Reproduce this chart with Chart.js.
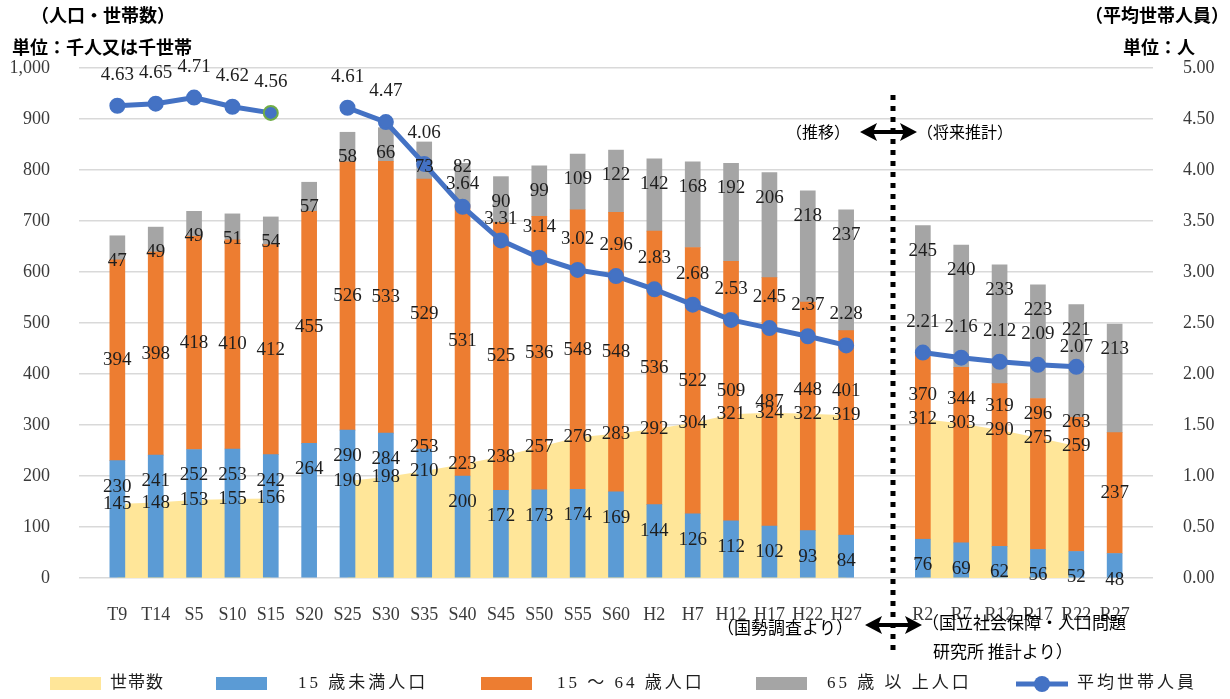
<!DOCTYPE html>
<html lang="ja">
<head>
<meta charset="utf-8">
<title>人口・世帯数と平均世帯人員の推移</title>
<script src="https://cdn.jsdelivr.net/npm/chart.js@4.4.1/dist/chart.umd.min.js"></script>
<style>
  html, body { margin: 0; padding: 0; background: #ffffff; }
  #wrap { position: relative; width: 1230px; height: 699px; }
</style>
</head>
<body>
<div id="wrap"><canvas id="chart" width="1230" height="699"></canvas></div>
<script>
// Census years (actual) and projection years
const pastYears   = ['T9','T14','S5','S10','S15','S20','S25','S30','S35','S40','S45','S50','S55','S60','H2','H7','H12','H17','H22','H27'];
const futureYears = ['R2','R7','R12','R17','R22','R27'];

// 世帯数 (千世帯)
const householdsPast   = [145,148,153,155,156,null,190,198,210,223,238,257,276,283,292,304,321,324,322,319];
const householdsFuture = [312,303,290,275,259,null];

// 15歳未満人口 (千人)
const under15Past   = [230,241,252,253,242,264,290,284,253,200,172,173,174,169,144,126,112,102,93,84];
const under15Future = [76,69,62,56,52,48];

// 15～64歳人口 (千人)
const age15to64Past   = [394,398,418,410,412,455,526,533,529,531,525,536,548,548,536,522,509,487,448,401];
const age15to64Future = [370,344,319,296,263,237];

// 65歳以上人口 (千人)
const age65plusPast   = [47,49,49,51,54,57,58,66,73,82,90,99,109,122,142,168,192,206,218,237];
const age65plusFuture = [245,240,233,223,221,213];

// 平均世帯人員 (人)
const avgSizePast   = [4.63,4.65,4.71,4.62,4.56,null,4.61,4.47,4.06,3.64,3.31,3.14,3.02,2.96,2.83,2.68,2.53,2.45,2.37,2.28];
const avgSizeFuture = [2.21,2.16,2.12,2.09,2.07,null];

// Axis tick settings
const popAxisMax = 1000, popAxisStep = 100;
const sizeAxisMax = 5, sizeAxisStep = 0.5;

// Legend entries
const legendNames = ['世帯数', '15 歳未満人口', '15 ～ 64 歳人口', '65 歳 以 上人口', '平均世帯人員'];

// Empty slots at both ends and between the actual and projected periods
const labels = ['', ...pastYears, '', ...futureYears, ''];
const withBlanks = (past, future) => [null, ...past, null, ...future, null];

const COLORS = {
  households: '#FFE699',
  under15: '#5B9BD5',
  mid: '#ED7D31',
  old: '#A5A5A5',
  avg: '#4472C4',
  highlight: '#70AD47',
  grid: '#D9D9D9',
  text: '#1e1e1e',
  tick: '#3a3a3a'
};
const SERIF = '"Liberation Serif", "Times New Roman", serif';
const JP = '"Noto Sans CJK JP", "Noto Sans", sans-serif';
const LEGEND_FONT = '"Liberation Serif", "Noto Sans CJK JP", serif';

// Value labels for every series
const valueLabels = {
  id: 'valueLabels',
  afterDatasetsDraw(chart) {
    const ctx = chart.ctx;
    const ds = chart.data.datasets;
    const metas = [0, 1, 2, 3, 4].map(i => chart.getDatasetMeta(i));
    ctx.save();
    ctx.font = '19px ' + SERIF;
    ctx.fillStyle = COLORS.text;
    ctx.textAlign = 'center';
    ctx.textBaseline = 'middle';
    const put = (t, x, y) => ctx.fillText(t, x, y);
    labels.forEach((lab, i) => {
      if (!lab) return;
      const x = metas[1].data[i].x;
      const hhVal = ds[0].data[i];
      const hhY = hhVal != null ? metas[0].data[i].y : null;
      if (hhVal != null) put(String(hhVal), x, hhY);

      // 15歳未満: just inside the top of its segment, lifted above the 世帯数 label when they meet
      const blue = metas[1].data[i];
      let by = blue.y + 26;
      if (hhY != null && Math.abs(by - hhY) < 16) by = hhY - 24;
      put(String(ds[1].data[i]), x, by);

      // 15～64歳: centred in its segment unless the 世帯数 label is in the way
      const orange = metas[2].data[i];
      let oy = (orange.y + orange.base) / 2;
      if (hhY != null && oy > hhY - 8) oy = hhY - 24;
      put(String(ds[2].data[i]), x, oy);

      // 65歳以上 and 平均世帯人員
      const gray = metas[3].data[i];
      let gy = gray.y + 25;
      const v = ds[4].data[i];
      if (v != null) {
        const p = metas[4].data[i];
        let ly = p.y - 31;
        if (Math.abs(ly - gy) < 14) {
          if (ly < gy) { gy = p.y - 40; ly = p.y - 23; }
          else { ly = gy + 17; }
        }
        put(v.toFixed(2), p.x, ly);
      }
      put(String(ds[3].data[i]), x, gy);
    });
    ctx.restore();
  }
};

function doubleArrow(ctx, x1, x2, y) {
  const head = 17, half = 9, shaft = 2;
  ctx.beginPath();
  ctx.moveTo(x1, y);
  ctx.lineTo(x1 + head, y - half);
  ctx.lineTo(x1 + head - 3, y - shaft);
  ctx.lineTo(x2 - head + 3, y - shaft);
  ctx.lineTo(x2 - head, y - half);
  ctx.lineTo(x2, y);
  ctx.lineTo(x2 - head, y + half);
  ctx.lineTo(x2 - head + 3, y + shaft);
  ctx.lineTo(x1 + head - 3, y + shaft);
  ctx.lineTo(x1 + head, y + half);
  ctx.closePath();
  ctx.fill();
}

// Headings, the divider between actual and projected periods, notes and legend
const annotations = {
  id: 'annotations',
  afterDraw(chart) {
    const ctx = chart.ctx;
    const xs = chart.scales.x;
    ctx.save();
    ctx.fillStyle = '#000';
    ctx.textBaseline = 'middle';

    ctx.font = 'bold 18px ' + JP;
    ctx.textAlign = 'left';
    ctx.fillText('（人口・世帯数）', 31, 15);
    ctx.fillText('単位：千人又は千世帯', 12, 47);
    ctx.textAlign = 'right';
    ctx.fillText('（平均世帯人員）', 1229, 15);
    ctx.fillText('単位：人', 1195, 47);

    // divider sits in the empty slot between H27 and R2
    const gapIndex = pastYears.length + 1;
    const dx = Math.round(xs.getPixelForValue(gapIndex) + 8);
    ctx.strokeStyle = '#000';
    ctx.lineWidth = 5;
    ctx.setLineDash([5, 6]);
    ctx.beginPath();
    ctx.moveTo(dx, 95);
    ctx.lineTo(dx, 654);
    ctx.stroke();
    ctx.setLineDash([]);

    doubleArrow(ctx, dx - 33, dx + 24, 132);
    doubleArrow(ctx, dx - 28, dx + 29, 625);

    ctx.font = '16px ' + JP;
    ctx.textAlign = 'right';
    ctx.fillText('（推移）', 850, 132);
    ctx.textAlign = 'left';
    ctx.fillText('（将来推計）', 917, 132);

    ctx.font = '17px ' + JP;
    ctx.fillText('（国勢調査より）', 717, 628);
    ctx.fillText('（国立社会保障・人口問題', 922, 623);
    ctx.fillText('研究所 推計より）', 933, 652);

    // legend row
    const legendY = 684;
    const items = [
      { x: 50,   tx: 110,  color: COLORS.households },
      { x: 216,  tx: 298,  color: COLORS.under15 },
      { x: 481,  tx: 557,  color: COLORS.mid },
      { x: 756,  tx: 827,  color: COLORS.old },
      { x: 1016, tx: 1077, color: COLORS.avg, line: true }
    ];
    ctx.font = '17px ' + LEGEND_FONT;
    ctx.textAlign = 'left';
    items.forEach((it, i) => {
      if (it.line) {
        ctx.strokeStyle = it.color; ctx.lineWidth = 5;
        ctx.beginPath(); ctx.moveTo(it.x, legendY); ctx.lineTo(it.x + 52, legendY); ctx.stroke();
        ctx.fillStyle = it.color;
        ctx.beginPath(); ctx.arc(it.x + 26, legendY, 8, 0, Math.PI * 2); ctx.fill();
      } else {
        ctx.fillStyle = it.color;
        ctx.fillRect(it.x, legendY - 7, 51, 13);
      }
      ctx.fillStyle = COLORS.text;
      ctx.letterSpacing = i === 0 ? '1px' : '3px';
      ctx.fillText(legendNames[i], it.tx, legendY);
      ctx.letterSpacing = '0px';
    });
    ctx.restore();
  }
};

new Chart(document.getElementById('chart'), {
  type: 'bar',
  data: {
    labels,
    datasets: [
      {
        type: 'line',
        label: legendNames[0],
        data: withBlanks(householdsPast, householdsFuture),
        backgroundColor: COLORS.households,
        borderColor: 'transparent',
        borderWidth: 0,
        pointRadius: 0,
        fill: 'origin',
        spanGaps: false,
        stack: 'households',
        yAxisID: 'y',
        order: 3
      },
      {
        label: legendNames[1],
        data: withBlanks(under15Past, under15Future),
        backgroundColor: COLORS.under15,
        stack: 'population',
        yAxisID: 'y',
        order: 2
      },
      {
        label: legendNames[2],
        data: withBlanks(age15to64Past, age15to64Future),
        backgroundColor: COLORS.mid,
        stack: 'population',
        yAxisID: 'y',
        order: 2
      },
      {
        label: legendNames[3],
        data: withBlanks(age65plusPast, age65plusFuture),
        backgroundColor: COLORS.old,
        stack: 'population',
        yAxisID: 'y',
        order: 2
      },
      {
        type: 'line',
        label: legendNames[4],
        data: withBlanks(avgSizePast, avgSizeFuture),
        borderColor: COLORS.avg,
        backgroundColor: COLORS.avg,
        borderWidth: 5,
        pointRadius: 7,
        pointBorderWidth: 2,
        pointBorderColor: c => labels[c.dataIndex] === 'S15' ? COLORS.highlight : COLORS.avg,
        fill: false,
        spanGaps: false,
        tension: 0,
        yAxisID: 'y1',
        order: 1
      }
    ]
  },
  options: {
    responsive: false,
    animation: false,
    devicePixelRatio: 1,
    barThickness: 15,
    layout: { padding: { top: 68, left: 0, right: 0, bottom: 37 } },
    scales: {
      x: {
        stacked: true,
        offset: false,
        grid: { display: false },
        border: { display: false },
        ticks: {
          autoSkip: false, maxRotation: 0, padding: 18,
          font: { family: SERIF, size: 18 }, color: COLORS.tick
        },
        afterFit: s => { s.height = 84; }
      },
      y: {
        stacked: true,
        min: 0, max: popAxisMax,
        grid: { color: COLORS.grid, lineWidth: 1.5, drawTicks: false },
        border: { display: false },
        ticks: {
          stepSize: popAxisStep, padding: 29,
          font: { family: SERIF, size: 18 }, color: COLORS.tick,
          callback: v => v.toLocaleString('en-US')
        },
        afterFit: s => { s.width = 79; }
      },
      y1: {
        position: 'right',
        min: 0, max: sizeAxisMax,
        grid: { drawOnChartArea: false, drawTicks: false },
        border: { display: false },
        ticks: {
          stepSize: sizeAxisStep, padding: 30,
          font: { family: SERIF, size: 18 }, color: COLORS.tick,
          callback: v => v.toFixed(2)
        },
        afterFit: s => { s.width = 77; }
      }
    },
    plugins: {
      tooltip: { enabled: false },
      legend: { display: false }
    }
  },
  plugins: [valueLabels, annotations]
});
</script>
</body>
</html>
